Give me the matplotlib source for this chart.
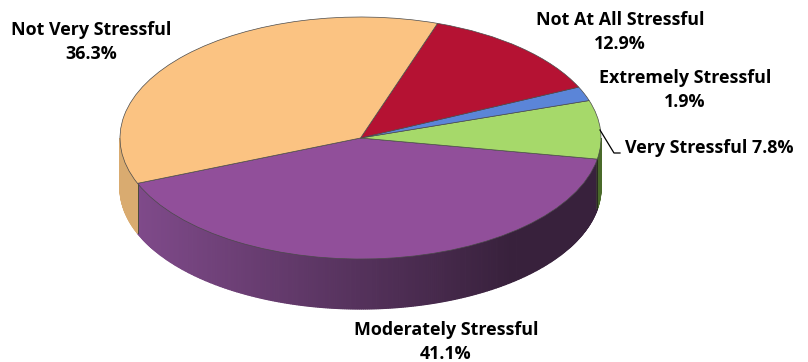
import numpy as np
import matplotlib
matplotlib.use('Agg')
import matplotlib.pyplot as plt
from matplotlib.colors import to_rgb

categories = ['Moderately Stressful', 'Very Stressful', 'Extremely Stressful', 'Not At All Stressful', 'Not Very Stressful']
values = [41.1, 7.8, 1.9, 12.9, 36.3]
top_colors = ['#914f9a', '#a6d96a', '#5b85d8', '#b51233', '#fbc382']
side_colors = ['#7f4a8a', '#4a6a2a', '#3d5a94', '#7a0c22', '#d9ab70']
label_texts = ['Moderately Stressful\n41.1%', 'Very Stressful 7.8%', 'Extremely Stressful\n1.9%', 'Not At All Stressful\n12.9%', 'Not Very Stressful\n36.3%']
label_px = [(446, 342), (709, 148), (685, 90), (620, 32), (91, 42)]

W, H = 808, 362
cx, cy, rx, ry, depth = 360.5, 138, 240.5, 121, 50
start = 202

fig = plt.figure(figsize=(W/100, H/100), dpi=100)
ax = fig.add_axes([0, 0, 1, 1])
edges = start + np.cumsum([0] + values) * 3.6

def px(x, y):
    return (x - cx) / rx, (cy - y) / ry

d = depth / ry
# side wall: only the front half of the ellipse (180..360 degrees) is visible
for i, (a0, a1) in enumerate(zip(edges[:-1], edges[1:])):
    for shift in (0, 360, -360):
        lo, hi = max(a0 + shift, 180), min(a1 + shift, 360)
        if hi <= lo:
            continue
        th = np.linspace(lo, hi, max(2, int((hi - lo) * 2) + 1))
        for t0, t1 in zip(th[:-1], th[1:]):
            tt = np.radians([t0, t1])
            xs = np.cos(tt)
            ys = np.sin(tt)
            if i == 0:
                f = np.clip((np.cos(np.radians((t0 + t1) / 2)) + 0.92) / 1.55, 0, 1)
                c = (1 - f) * np.array(to_rgb('#7f4a8a')) + f * np.array(to_rgb('#38213c'))
            else:
                c = side_colors[i]
            ax.fill([xs[0], xs[1], xs[1], xs[0]], [ys[0], ys[1], ys[1] - d, ys[0] - d],
                    facecolor=c, edgecolor=c, lw=0.9, zorder=1)

wedges, _ = ax.pie(values, startangle=start, colors=top_colors, radius=1, center=(0, 0),
                   wedgeprops=dict(edgecolor='#4a4a4a', linewidth=0.5), frame=True)
for w in wedges:
    w.set_zorder(3)

# seams of the wall
a = np.radians(start)
ax.plot([np.cos(a)] * 2, [np.sin(a), np.sin(a) - d], color='#4a4a3a', lw=0.7, zorder=2)
a = np.radians(edges[1])
ax.plot([np.cos(a)] * 2, [np.sin(a), np.sin(a) - d], color='#2a2a20', lw=0.7, zorder=2)

# leader line
lx, ly = zip(px(600, 130), px(614, 153), px(620, 153))
ax.plot(lx, ly, color='black', lw=0.9, zorder=4)

for t, p in zip(label_texts, label_px):
    x, y = px(*p)
    ax.text(x, y, t, ha='center', va='center', fontsize=12.9, fontweight='bold',
            family='Open Sans', color='black', linespacing=1.42, zorder=5)

ax.set_aspect('auto')
ax.set_xlim(-cx / rx, (W - cx) / rx)
ax.set_ylim((cy - H) / ry, cy / ry)
ax.axis('off')
fig.savefig('out.png', dpi=100, facecolor='white')
